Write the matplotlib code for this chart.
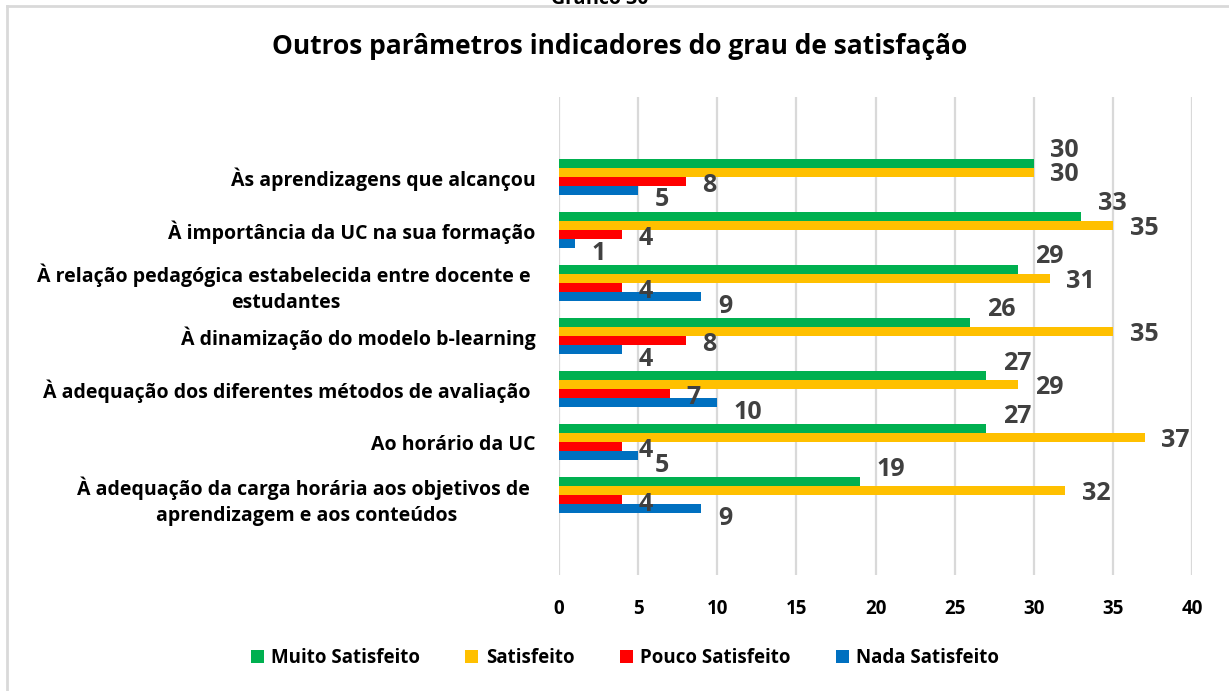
import matplotlib
matplotlib.use("Agg")
import matplotlib.pyplot as plt
from matplotlib.lines import Line2D
import numpy as np

categories = [
    "Às aprendizagens que alcançou",
    "À importância da UC na sua formação",
    "À relação pedagógica estabelecida entre docente e \nestudantes",
    "À dinamização do modelo b-learning",
    "À adequação dos diferentes métodos de avaliação ",
    "Ao horário da UC",
    "À adequação da carga horária aos objetivos de \naprendizagem e aos conteúdos",
]
series_names = ["Muito Satisfeito", "Satisfeito", "Pouco Satisfeito", "Nada Satisfeito"]
muito = [30, 33, 29, 26, 27, 27, 19]
satisfeito = [30, 35, 31, 35, 29, 37, 32]
pouco = [8, 4, 4, 8, 7, 4, 4]
nada = [5, 1, 9, 4, 10, 5, 9]
xticks = [0, 5, 10, 15, 20, 25, 30, 35, 40]

colors = ["#00B050", "#FFC000", "#FF0000", "#0070C0"]
label_dy = [9, -2, -3, -7]  # points, vertical label offsets per series

FONT = "Open Sans"
fig = plt.figure(figsize=(12.29, 6.91), dpi=100)
ax = fig.add_axes([559 / 1229, 1 - 575 / 691, (1192 - 559) / 1229, (575 - 97) / 691])

values = [muito, satisfeito, pouco, nada]
n = len(categories)
y = np.arange(n)
bh = 0.17
for i, (vals, col, name) in enumerate(zip(values, colors, series_names)):
    pos = y + (i - 1.5) * bh
    bars = ax.barh(pos, vals, height=bh, color=col, label=name, zorder=3)
    for b, v in zip(bars, vals):
        ax.annotate(str(v), xy=(b.get_width(), b.get_y() + b.get_height() / 2),
                    xytext=(12, label_dy[i]), textcoords="offset points",
                    ha="left", va="center", fontsize=18, fontweight="bold",
                    color="#404040", family=FONT, zorder=4)

ax.set_ylim(n - 1 + 1.5, -1.5)
ax.set_xlim(0, 40)
ax.set_xticks(xticks)
ax.set_xticklabels([str(t) for t in xticks], fontsize=13.5, fontweight="bold", family=FONT)
ax.set_yticks(y)
ax.set_yticklabels(categories, fontsize=14, fontweight="bold", family=FONT,
                   multialignment="center", linespacing=1.4)
ax.tick_params(axis="y", length=0, pad=17)
ax.tick_params(axis="x", length=0, pad=17)
ax.grid(axis="x", color="#D9D9D9", linewidth=1.6, zorder=0)
for s in ax.spines.values():
    s.set_visible(False)

fig.suptitle("Outros parâmetros indicadores do grau de satisfação", x=620 / 1229,
             y=1 - 47 / 691, va="center", fontsize=19, fontweight="bold", family=FONT)
fig.text(600 / 1229, 1 - 4 / 691, "Gráfico 30", ha="center", va="baseline",
         fontsize=14, fontweight="bold", family=FONT)

leg = fig.legend(loc="center", bbox_to_anchor=(625 / 1229, 1 - 658 / 691), ncol=4,
                 frameon=False, handlelength=0.7, handleheight=0.7, columnspacing=2.4,
                 handletextpad=0.4, prop={"family": FONT, "weight": "bold", "size": 13.5})

fig.add_artist(Line2D([7 / 1229, 1], [1 - 6 / 691, 1 - 6 / 691], transform=fig.transFigure,
                      color="#D9D9D9", linewidth=2))
fig.add_artist(Line2D([7 / 1229, 7 / 1229], [0, 1 - 6 / 691], transform=fig.transFigure,
                      color="#D9D9D9", linewidth=2))

fig.savefig("out.png", dpi=100)
